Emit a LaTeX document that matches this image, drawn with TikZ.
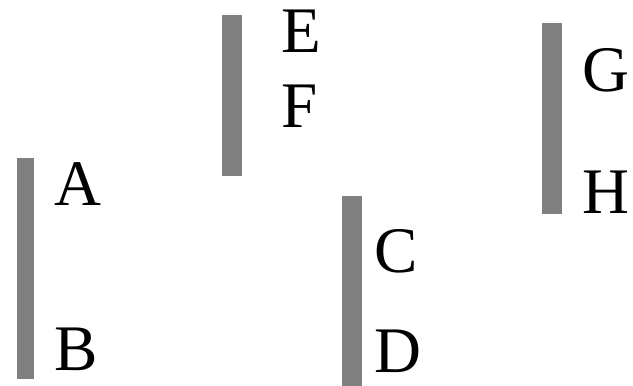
\documentclass[tikz,border=0pt]{standalone}
\usepackage{fontspec}
\setmainfont{Liberation Serif}
\tikzset{
  barra/.style={fill=gray, draw=none},
  letra/.style={anchor=base west, inner sep=0pt, font=\fontsize{65}{65}\selectfont},
}
\begin{document}
\begin{tikzpicture}[x=1pt, y=-1pt]
  \useasboundingbox (0,0) rectangle (633,386);

  % Barras verticales grises
  \fill[barra] (17,158) rectangle (34,379);
  \fill[barra] (222,15) rectangle (242,176);
  \fill[barra] (342,196) rectangle (362,386);
  \fill[barra] (542,23) rectangle (562,214);

  % Etiquetas de cada barra
  \node[letra] (A) at (54,205) {A};
  \node[letra] (B) at (54,370) {B};
  \node[letra] (E) at (281,52) {E};
  \node[letra] (F) at (281,127) {F};
  \node[letra] (C) at (374,272) {C};
  \node[letra] (D) at (374,372) {D};
  \node[letra] (G) at (582,91) {G};
  \node[letra] (H) at (582,213) {H};
\end{tikzpicture}
\end{document}
